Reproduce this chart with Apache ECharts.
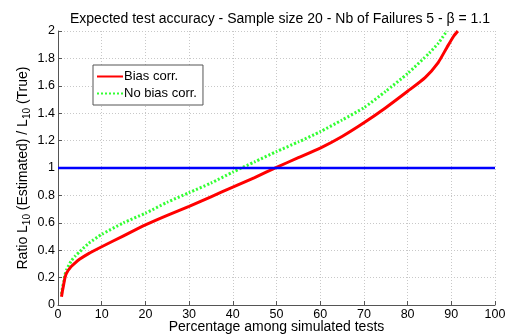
<html>
<head>
    <script src="https://cdn.jsdelivr.net/npm/echarts@6/dist/echarts.min.js"></script>
    <style>
        body { margin: 0 }
        #chart { width: 507px; height: 335px; }
    </style>
</head>
<body>
    <div id="chart"></div>
    <script>
        const biasX = [0.8, 1, 1.3, 1.6, 2, 3, 4, 5, 7, 10, 15, 20, 25, 30, 35, 40, 45, 50, 55, 60, 65, 70, 75, 80, 84, 87, 89, 90.5, 91.5];
        const biasY = [0.06, 0.10, 0.15, 0.20, 0.235, 0.28, 0.31, 0.335, 0.375, 0.425, 0.505, 0.585, 0.655, 0.72, 0.79, 0.86, 0.93, 1.005, 1.075, 1.145, 1.23, 1.33, 1.44, 1.56, 1.66, 1.77, 1.88, 1.96, 2.0];
        const noBiasX = [0.8, 1, 1.3, 1.6, 2, 3, 4, 5, 7, 10, 15, 20, 25, 30, 35, 40, 45, 50, 55, 60, 65, 70, 75, 80, 85, 87, 89];
        const noBiasY = [0.08, 0.12, 0.17, 0.22, 0.26, 0.32, 0.36, 0.39, 0.45, 0.515, 0.60, 0.67, 0.75, 0.82, 0.89, 0.97, 1.045, 1.12, 1.19, 1.265, 1.35, 1.44, 1.56, 1.69, 1.84, 1.91, 2.0];
        const refX = [0, 100];
        const refY = [1, 1];

        const zip = (xs, ys) => xs.map((x, i) => [x, ys[i]]);

        const chart = echarts.init(document.getElementById('chart'));
        const font = 'Liberation Sans, Arial, sans-serif';
        const gridLine = { show: true, lineStyle: { color: '#c8c8c8', type: [1, 2], width: 1 } };

        chart.setOption({
            animation: false,
            textStyle: { fontFamily: font },
            title: {
                text: 'Expected test accuracy - Sample size 20 - Nb of Failures 5 - β = 1.1',
                left: 275, top: 7, textAlign: 'center',
                textStyle: { fontSize: 14, fontWeight: 'normal', color: '#000', fontFamily: font }
            },
            legend: {
                left: 93, top: 65, orient: 'vertical',
                data: ['Bias corr.', 'No bias corr.'],
                borderColor: '#555', borderWidth: 1, backgroundColor: '#fff',
                padding: [5, 6, 5, 3], itemGap: 4, itemWidth: 26, itemHeight: 10,
                itemStyle: { opacity: 0 },
                textStyle: { fontSize: 13, color: '#000', padding: [0, 0, 0, -4] }
            },
            grid: { left: 58, right: 12, top: 31, bottom: 30, outerBoundsMode: 'none' },
            xAxis: {
                type: 'value', min: 0, max: 100, interval: 10,
                name: 'Percentage among simulated tests', nameLocation: 'middle',
                nameGap: 15, nameMoveOverlap: false,
                nameTextStyle: { fontSize: 14, color: '#000', verticalAlign: 'top' },
                axisLine: { lineStyle: { color: '#555' } },
                axisTick: { inside: true, length: 4, lineStyle: { color: '#555' } },
                axisLabel: { fontSize: 12.5, color: '#000', margin: 3 },
                splitLine: gridLine
            },
            yAxis: {
                type: 'value', min: 0, max: 2, interval: 0.2,
                name: '{n|Ratio L}{s|10}{n| (Estimated) / L}{s|10}{n| (True)}',
                nameLocation: 'middle', nameGap: 26, nameRotate: 90, nameMoveOverlap: false,
                nameTextStyle: {
                    color: '#000',
                    rich: {
                        n: { fontSize: 14, color: '#000' },
                        s: { fontSize: 10, color: '#000', verticalAlign: 'bottom', padding: [8, 0, 0, 0] }
                    }
                },
                axisLine: { show: true, lineStyle: { color: '#555' } },
                axisTick: { show: true, inside: true, length: 4, lineStyle: { color: '#555' } },
                axisLabel: { fontSize: 12.5, color: '#000', margin: 3 },
                splitLine: gridLine
            },
            series: [
                {
                    name: 'Bias corr.', type: 'line', data: zip(biasX, biasY),
                    smooth: 0.2, symbol: 'none', z: 3,
                    lineStyle: { color: '#ff0000', width: 3 }, itemStyle: { color: '#ff0000' }
                },
                {
                    name: 'No bias corr.', type: 'line', data: zip(noBiasX, noBiasY),
                    smooth: 0.2, symbol: 'none', z: 2,
                    lineStyle: { color: '#33ff33', width: 3, type: [2, 2] }, itemStyle: { color: '#33ff33' }
                },
                {
                    name: 'ref', type: 'line', data: zip(refX, refY), symbol: 'none', z: 4,
                    lineStyle: { color: '#0000ff', width: 2.5 }
                }
            ]
        });
    </script>
</body>
</html>
